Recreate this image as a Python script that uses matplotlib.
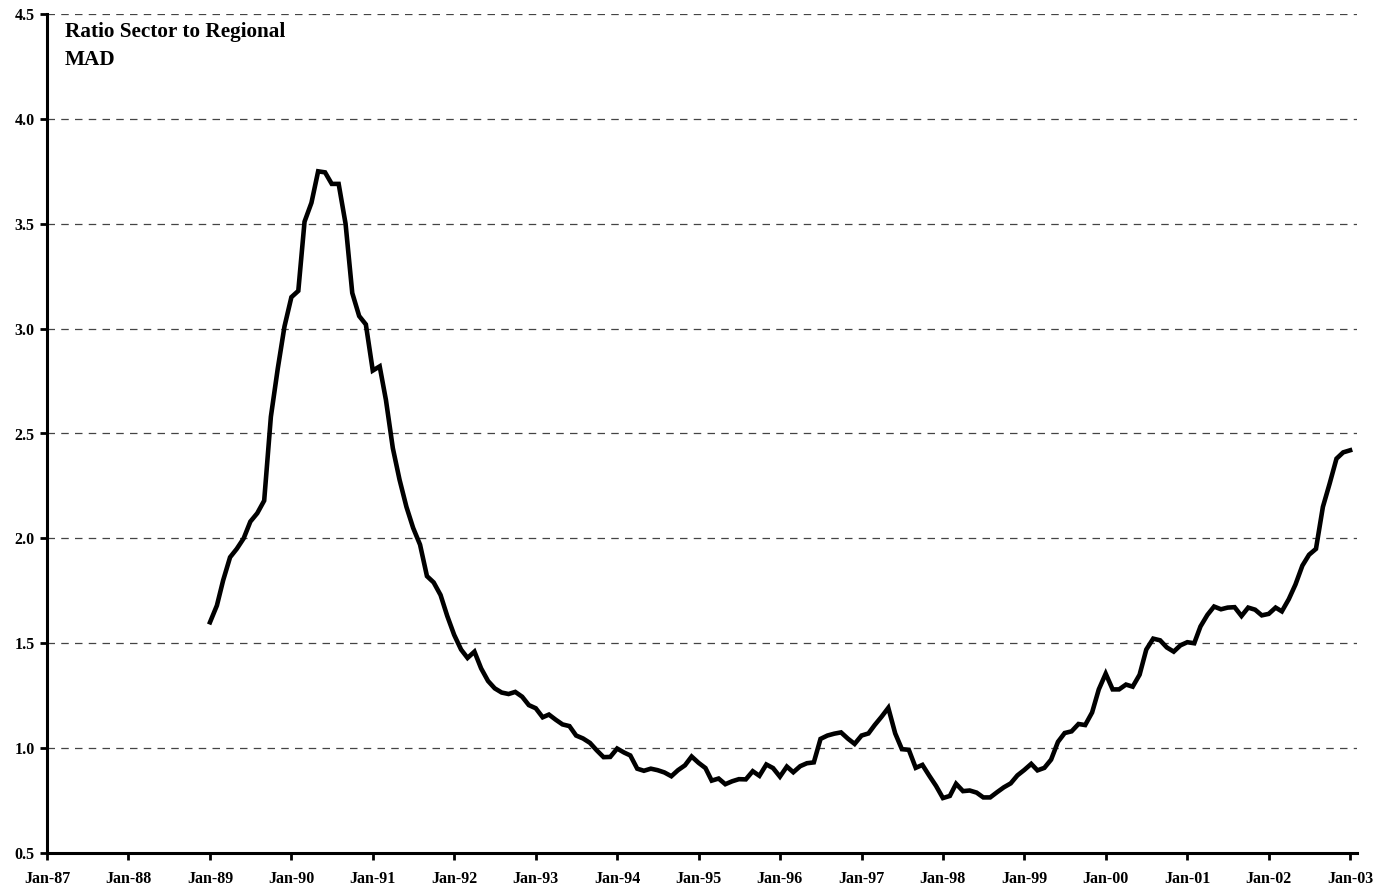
import matplotlib
matplotlib.use("Agg")
import matplotlib.pyplot as plt
import pandas as pd

start_month = "1989-01-01"
ratio_values = [
    1.60, 1.68, 1.80, 1.91, 1.95, 2.00, 2.08, 2.12, 2.18, 2.58,
    2.81, 3.01, 3.15, 3.18, 3.51, 3.60, 3.75, 3.745, 3.69, 3.69,
    3.50, 3.17, 3.06, 3.02, 2.80, 2.82, 2.66, 2.43, 2.28, 2.15,
    2.05, 1.97, 1.82, 1.79, 1.73, 1.63, 1.54, 1.47, 1.43, 1.46,
    1.38, 1.32, 1.285, 1.265, 1.258, 1.268, 1.245, 1.205, 1.19, 1.147,
    1.16, 1.135, 1.113, 1.105, 1.06, 1.046, 1.025, 0.99, 0.957, 0.958,
    0.998, 0.979, 0.965, 0.902, 0.892, 0.902, 0.895, 0.884, 0.866, 0.895,
    0.918, 0.96, 0.93, 0.905, 0.845, 0.855, 0.828, 0.842, 0.852, 0.851,
    0.89, 0.868, 0.922, 0.905, 0.864, 0.912, 0.885, 0.914, 0.928, 0.932,
    1.044, 1.06, 1.069, 1.075, 1.045, 1.02, 1.06, 1.07, 1.11, 1.15,
    1.192, 1.07, 0.995, 0.992, 0.906, 0.92, 0.868, 0.82, 0.762, 0.772,
    0.83, 0.795, 0.798, 0.788, 0.765, 0.765, 0.79, 0.813, 0.832, 0.87,
    0.896, 0.925, 0.894, 0.906, 0.945, 1.03, 1.072, 1.08, 1.115, 1.11,
    1.17, 1.28, 1.355, 1.28, 1.28, 1.303, 1.293, 1.35, 1.47, 1.522,
    1.514, 1.48, 1.46, 1.49, 1.505, 1.50, 1.58, 1.635, 1.675, 1.662,
    1.670, 1.672, 1.63, 1.67, 1.66, 1.633, 1.64, 1.67, 1.652, 1.71,
    1.78, 1.87, 1.922, 1.95, 2.15, 2.26, 2.38, 2.41, 2.42,
]
dates = pd.date_range(start_month, periods=len(ratio_values), freq="MS")

tick_years = list(range(1987, 2004))
y_ticks = [0.5, 1.0, 1.5, 2.0, 2.5, 3.0, 3.5, 4.0, 4.5]
title_text = "Ratio Sector to Regional\nMAD"

serif = ["Liberation Serif", "DejaVu Serif"]

W, H = 1381, 888
fig = plt.figure(figsize=(W / 100, H / 100), dpi=100)
ax = fig.add_axes([47 / W, 1 - 853 / H, (1357 - 47) / W, (853 - 14) / H])

ax.plot(dates, ratio_values, color="black", lw=3.3, solid_joinstyle="miter", zorder=3)

ax.set_ylim(0.5, 4.5)
ax.set_yticks(y_ticks)
ax.set_yticklabels([f"{v:.1f}" for v in y_ticks], fontfamily=serif, fontweight="bold", fontsize=11.5)

x0 = pd.Timestamp("1987-01-01")
x1 = pd.Timestamp("2003-02-01")
ax.set_xlim(x0, x1)
xt = [pd.Timestamp(f"{y}-01-01") for y in tick_years]
ax.set_xticks(xt)
ax.set_xticklabels([t.strftime("%b-%y") for t in xt], fontfamily=serif, fontweight="bold", fontsize=11.5)

for v in y_ticks[1:]:
    ax.axhline(v, color="#444444", lw=0.9, dashes=(6, 5), zorder=1)

for s in ["top", "right"]:
    ax.spines[s].set_visible(False)
for s in ["left", "bottom"]:
    ax.spines[s].set_linewidth(2.2)
    ax.spines[s].set_color("black")
ax.tick_params(axis="both", direction="out", length=5, width=2, color="black")
ax.tick_params(axis="y", pad=4)
ax.tick_params(axis="x", pad=8)

ax.text(65 / W, 1 - 22 / H, title_text, transform=fig.transFigure, ha="left", va="top",
        fontfamily=serif, fontweight="bold", fontsize=15.3, linespacing=1.55)

fig.savefig("out.png", dpi=100)
